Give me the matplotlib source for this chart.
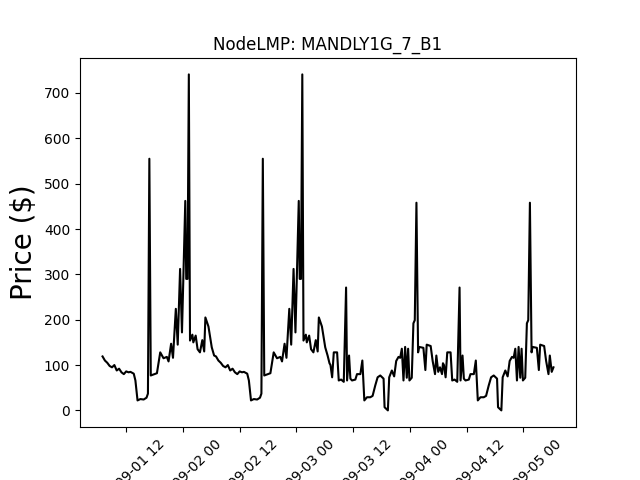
import numpy as np
import matplotlib
matplotlib.use("Agg")
import matplotlib.pyplot as plt
import matplotlib.dates as mdates
import pandas as pd

# hours after 07:00 and price, daily profile for 09-01/09-02
hA = [0, 0.5, 1, 1.5, 2, 2.5, 3, 3.5, 4, 4.5, 5, 5.5,
      5.9, 6.6, 6.95, 7.4, 8, 8.7, 9.3, 9.6, 9.9, 10.2,
      11.5, 12.2, 12.9, 13.6, 13.96, 14.5, 14.9, 15.5, 15.9, 16.4,
      16.8, 17.5, 17.7, 17.97, 18.25, 18.5, 19.0, 19.2, 19.7, 20.1,
      20.6, 21.1, 21.5, 21.75, 22.4, 23.1, 23.6]
vA = [119, 110, 105, 98, 95, 100, 88, 92, 84, 80, 86, 84,
      85, 81, 66, 22, 25, 24, 28, 37, 555, 77,
      82, 128, 115, 118, 108, 147, 116, 224, 145, 312,
      172, 462, 290, 290, 741, 154, 167, 150, 165, 135,
      128, 155, 130, 205, 185, 139, 121]
# daily profile for 09-03/09-04
hB = [0, 0.21, 0.56, 0.91, 1.61, 1.96, 2.46, 3.02, 3.16, 3.51,
      3.72, 4.14, 4.42, 4.77, 5.47, 5.82, 6.53, 6.95, 7.37, 7.93,
      8.63, 9.12, 9.68, 10.18, 10.74, 11.44, 11.65, 12.35, 12.63, 13.19,
      13.68, 14.11, 14.6, 14.95, 15.3, 15.65, 16.0, 16.35, 16.63, 16.91,
      17.4, 17.75, 18.04, 18.39, 18.74, 18.95, 19.86, 20.28, 20.56, 21.4,
      21.82, 22.32, 22.6, 23.0, 23.37, 23.8]
vB = [104, 100, 73, 128, 128, 66, 68, 63, 124, 271,
      66, 121, 70, 66, 68, 80, 80, 110, 22, 29,
      29, 32, 55, 73, 77, 70, 7, 0, 73, 88,
      75, 109, 118, 116, 136, 66, 140, 72, 136, 66,
      72, 192, 199, 458, 128, 140, 138, 89, 145, 142,
      109, 80, 121, 85, 95, 80]

t0 = pd.Timestamp("2018-09-01 07:00")
t_end = pd.Timestamp("2018-09-05 06:40")
times, vals = [], []
for d, (h, v) in enumerate([(hA, vA), (hA, vA), (hB, vB), (hB, vB)]):
    for hh, vv in zip(h, v):
        t = t0 + pd.Timedelta(days=d) + pd.Timedelta(hours=hh)
        if t <= t_end:
            times.append(t)
            vals.append(vv)

fig, ax = plt.subplots(figsize=(6.4, 4.8), dpi=100)
ax.plot(times, vals, color="black")
ax.set_title("NodeLMP: MANDLY1G_7_B1")
ax.set_ylabel("Price ($)", fontsize=20)
ax.xaxis.set_major_locator(mdates.HourLocator(byhour=[0, 12]))
ax.xaxis.set_major_formatter(mdates.DateFormatter("%Y-%m-%d %H"))
plt.xticks(rotation=45)
fig.savefig("out.png")
